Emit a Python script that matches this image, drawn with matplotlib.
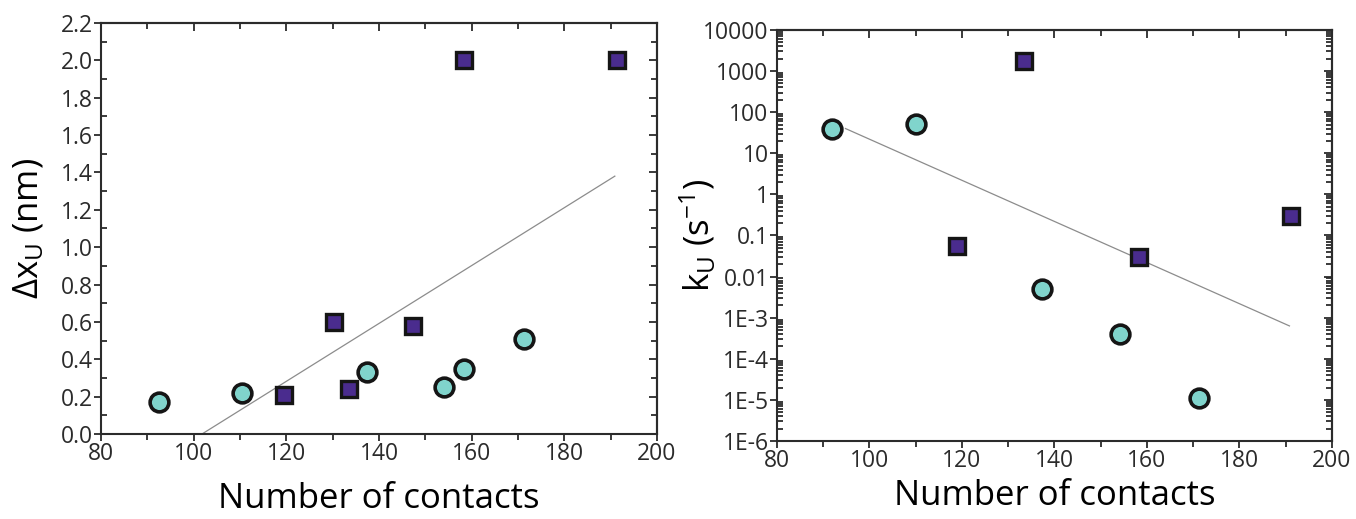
import matplotlib
matplotlib.use('Agg')
import matplotlib.pyplot as plt
import numpy as np
from matplotlib.ticker import MultipleLocator, FixedLocator, FixedFormatter, FormatStrFormatter, LogLocator, NullFormatter

plt.rcParams['font.family'] = ['Open Sans', 'DejaVu Sans']
plt.rcParams['mathtext.fontset'] = 'custom'
plt.rcParams['mathtext.rm'] = 'Open Sans'
plt.rcParams['mathtext.it'] = 'Open Sans'

# left panel: unfolding distance vs number of contacts
circ_x = [92.5, 110.4, 137.5, 154.1, 158.4, 171.4]
circ_dx = [0.17, 0.22, 0.33, 0.25, 0.35, 0.51]
sq_x = [119.4, 130.3, 133.5, 147.3, 158.4, 191.4]
sq_dx = [0.21, 0.60, 0.24, 0.58, 2.0, 2.0]
fit1_x = [101.8, 190.9]
fit1_y = [0.0, 1.38]

# right panel: unfolding rate vs number of contacts
circ2_x = [92.0, 110.0, 137.3, 154.1, 171.2]
circ_k = [39, 51, 0.0049, 4.0e-4, 1.1e-5]
sq2_x = [119.0, 133.3, 158.3, 191.2]
sq_k = [0.056, 1760, 0.0295, 0.30]
fit2_x = [94.8, 190.8]
fit2_y = [40, 6.3e-4]

log_ticks = [1e-6, 1e-5, 1e-4, 1e-3, 1e-2, 1e-1, 1, 10, 100, 1000, 10000]
log_labels = ['1E-6', '1E-5', '1E-4', '1E-3', '0.01', '0.1', '1', '10', '100', '1000', '10000']

circ_face = '#80d4cc'
sq_face = '#4a2c8e'
edge = '#151515'
axcol = '#2b2b2b'

fig = plt.figure(figsize=(13.56, 5.19), dpi=100)
ax1 = fig.add_axes([0.0745, 0.1638, 0.410, 0.792])
ax2 = fig.add_axes([0.573, 0.1503, 0.4093, 0.792])


def style(ax, pad):
    for s in ax.spines.values():
        s.set_linewidth(1.5)
        s.set_color(axcol)
    ax.tick_params(which='both', colors=axcol, width=1.3, labelsize=16.5, pad=1)
    ax.tick_params(which='major', direction='out', length=5)
    ax.tick_params(axis='y', which='minor', direction='in', length=4)
    ax.tick_params(axis='x', which='minor', direction='out', length=4)
    ax.set_xlim(80, 200)
    ax.xaxis.set_major_locator(MultipleLocator(20))
    ax.xaxis.set_minor_locator(MultipleLocator(10))
    ax.set_xlabel('Number of contacts', fontsize=25, labelpad=pad)


def mirror(ax, ymaj, ymin, log=False):
    t = ax.secondary_xaxis('top')
    t.xaxis.set_major_locator(MultipleLocator(20))
    t.xaxis.set_minor_locator(MultipleLocator(10))
    t.tick_params(which='both', direction='in', labeltop=False, width=1.3, colors=axcol)
    t.tick_params(which='major', length=6)
    t.tick_params(which='minor', length=4)
    r = ax.secondary_yaxis('right')
    if log:
        r.set_yscale('log')
    r.yaxis.set_major_locator(ymaj)
    r.yaxis.set_minor_locator(ymin)
    r.yaxis.set_minor_formatter(NullFormatter())
    r.tick_params(which='both', direction='in', labelright=False, width=1.3, colors=axcol)
    r.tick_params(which='major', length=6)
    r.tick_params(which='minor', length=4)
    for s in list(t.spines.values()) + list(r.spines.values()):
        s.set_linewidth(1.5)
        s.set_color(axcol)


ax1.plot(fit1_x, fit1_y, color='#8c8c8c', lw=0.9, zorder=2)
ax1.plot(circ_x, circ_dx, 'o', ms=13.5, mfc=circ_face, mec=edge, mew=2.6, zorder=3)
ax1.plot(sq_x, sq_dx, 's', ms=11.5, mfc=sq_face, mec=edge, mew=2.4, zorder=3)
ax1.set_ylim(0, 2.2)
ax1.yaxis.set_major_locator(MultipleLocator(0.2))
ax1.yaxis.set_minor_locator(MultipleLocator(0.1))
ax1.yaxis.set_major_formatter(FormatStrFormatter('%.1f'))
style(ax1, 11)
ax1.set_ylabel(r'$\Delta$x$_\mathrm{U}$ (nm)', fontsize=25)
ax1.yaxis.set_label_coords(-0.098, 0.5)
mirror(ax1, MultipleLocator(0.2), MultipleLocator(0.1))

ax2.plot(fit2_x, fit2_y, color='#8c8c8c', lw=0.9, zorder=2)
ax2.plot(circ2_x, circ_k, 'o', ms=13.5, mfc=circ_face, mec=edge, mew=2.6, zorder=3)
ax2.plot(sq2_x, sq_k, 's', ms=11.5, mfc=sq_face, mec=edge, mew=2.4, zorder=3)
ax2.set_yscale('log')
ax2.set_ylim(1e-6, 1e4)
ax2.yaxis.set_major_locator(FixedLocator(log_ticks))
ax2.yaxis.set_major_formatter(FixedFormatter(log_labels))
ax2.yaxis.set_minor_locator(LogLocator(base=10, subs=np.arange(2, 10), numticks=20))
ax2.yaxis.set_minor_formatter(NullFormatter())
style(ax2, 4)
ax2.set_ylabel(r'k$_\mathrm{U}$ (s$^{-1}$)', fontsize=25)
ax2.yaxis.set_label_coords(-0.105, 0.5)
mirror(ax2, FixedLocator(log_ticks), LogLocator(base=10, subs=np.arange(2, 10), numticks=20), log=True)

fig.savefig('out.png', dpi=100)
